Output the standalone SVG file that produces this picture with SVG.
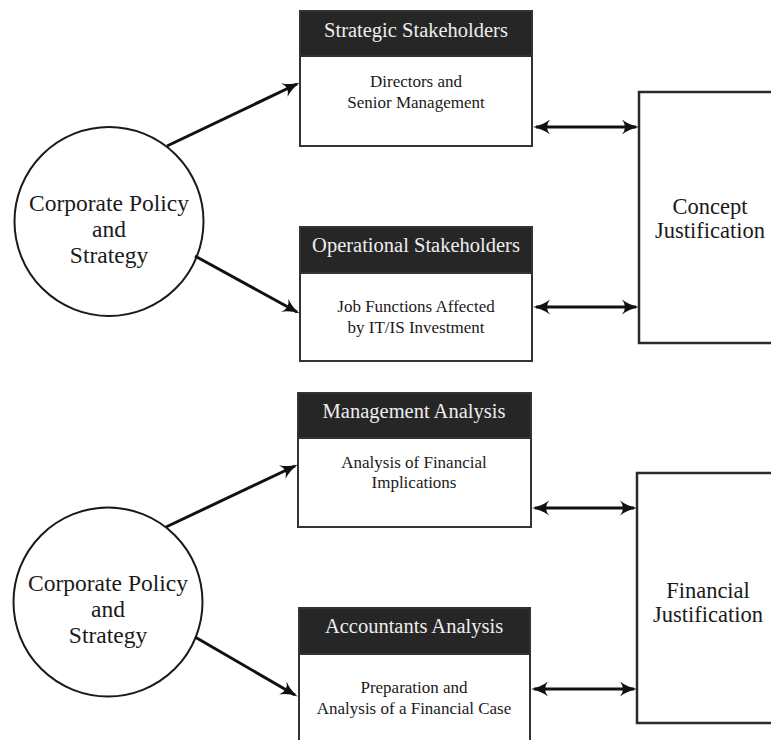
<svg xmlns="http://www.w3.org/2000/svg" width="771" height="740" viewBox="0 0 771 740">
<defs>
<marker id="arr" viewBox="0 0 17 16" refX="14" refY="8" markerWidth="17" markerHeight="16" markerUnits="userSpaceOnUse" orient="auto-start-reverse">
<path d="M0,0.5 Q7,6 17,8 Q7,10 0,15.5 Q6,8 0,0.5 Z" fill="#111"/>
</marker>
<style>
.box{fill:#fff;stroke:#333;stroke-width:2}
.hdr{fill:#262626;stroke:#333;stroke-width:2}
.circ{fill:#fff;stroke:#1a1a1a;stroke-width:2}
.just{fill:#fff;stroke:#2a2a2a;stroke-width:2.5}
.ht{font-family:"Liberation Serif","Times New Roman",serif;font-size:20.5px;fill:#eeeeee;text-anchor:middle}
.bt{font-family:"Liberation Serif","Times New Roman",serif;font-size:17px;fill:#1a1a1a;text-anchor:middle}
.ct{font-family:"Liberation Serif","Times New Roman",serif;font-size:23.5px;fill:#1a1a1a;text-anchor:middle}
.jt{font-family:"Liberation Serif","Times New Roman",serif;font-size:22.5px;fill:#1a1a1a;text-anchor:middle}
.con{stroke:#111;stroke-width:3;fill:none}
</style>
</defs>

<g id="policy1">
<circle class="circ" cx="109" cy="221.5" r="94.5"/>
<text class="ct" x="109" y="211">Corporate Policy</text>
<text class="ct" x="109" y="237">and</text>
<text class="ct" x="109" y="263">Strategy</text>
</g>

<g id="strategic">
<rect class="box" x="300" y="11" width="232" height="135"/>
<rect class="hdr" x="300" y="11" width="232" height="45"/>
<text class="ht" x="416" y="37">Strategic Stakeholders</text>
<text class="bt" x="416" y="87">Directors and</text>
<text class="bt" x="416" y="108">Senior Management</text>
</g>

<g id="operational">
<rect class="box" x="300" y="227" width="232" height="134"/>
<rect class="hdr" x="300" y="227" width="232" height="46"/>
<text class="ht" x="416" y="252">Operational Stakeholders</text>
<text class="bt" x="416" y="312">Job Functions Affected</text>
<text class="bt" x="416" y="333">by IT/IS Investment</text>
</g>

<g id="concept">
<rect class="just" x="639" y="92" width="150" height="251"/>
<text class="jt" x="710" y="214">Concept</text>
<text class="jt" x="710" y="238">Justification</text>
</g>

<g id="policy2">
<circle class="circ" cx="108" cy="602" r="94.5"/>
<text class="ct" x="108" y="591">Corporate Policy</text>
<text class="ct" x="108" y="617">and</text>
<text class="ct" x="108" y="643">Strategy</text>
</g>

<g id="management">
<rect class="box" x="298" y="393" width="233" height="134"/>
<rect class="hdr" x="298" y="393" width="233" height="45"/>
<text class="ht" x="414" y="418">Management Analysis</text>
<text class="bt" x="414" y="468">Analysis of Financial</text>
<text class="bt" x="414" y="488">Implications</text>
</g>

<g id="accountants">
<rect class="box" x="299" y="608" width="231" height="150"/>
<rect class="hdr" x="299" y="608" width="231" height="46"/>
<text class="ht" x="414" y="633">Accountants Analysis</text>
<text class="bt" x="414" y="693">Preparation and</text>
<text class="bt" x="414" y="714">Analysis of a Financial Case</text>
</g>

<g id="financial">
<rect class="just" x="637" y="473" width="150" height="250"/>
<text class="jt" x="708" y="598">Financial</text>
<text class="jt" x="708" y="622">Justification</text>
</g>

<g id="connectors">
<line class="con" x1="167" y1="146" x2="297" y2="84" marker-end="url(#arr)"/>
<line class="con" x1="195" y1="256" x2="297" y2="312" marker-end="url(#arr)"/>
<line class="con" x1="536" y1="127" x2="636" y2="127" marker-start="url(#arr)" marker-end="url(#arr)"/>
<line class="con" x1="536" y1="307" x2="636" y2="307" marker-start="url(#arr)" marker-end="url(#arr)"/>
<line class="con" x1="166" y1="527" x2="295" y2="466" marker-end="url(#arr)"/>
<line class="con" x1="195" y1="637" x2="295" y2="695" marker-end="url(#arr)"/>
<line class="con" x1="535" y1="508" x2="634" y2="508" marker-start="url(#arr)" marker-end="url(#arr)"/>
<line class="con" x1="534" y1="689" x2="634" y2="689" marker-start="url(#arr)" marker-end="url(#arr)"/>
</g>
</svg>
